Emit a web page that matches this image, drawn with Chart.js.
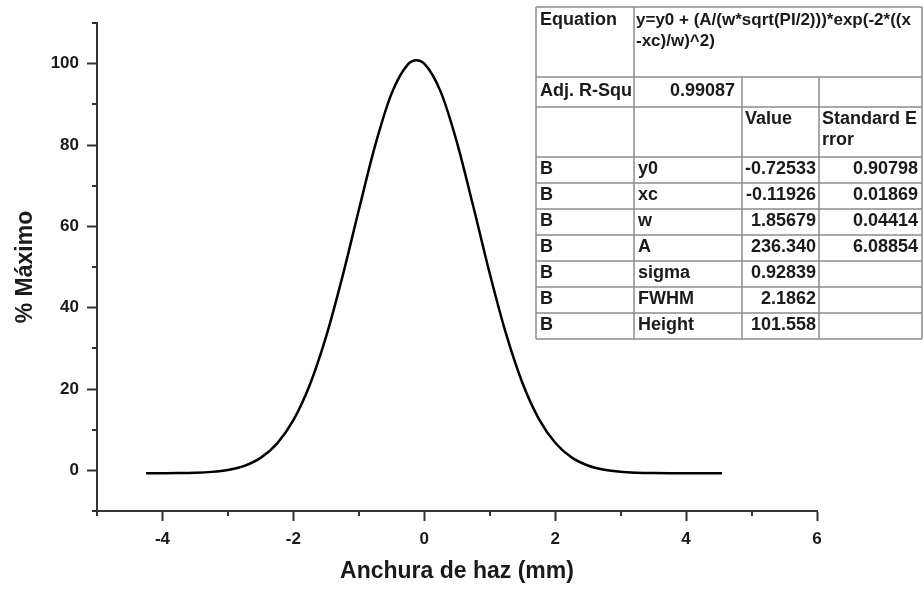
<!DOCTYPE html>
<html>
<head>
<meta charset="utf-8">
<title>Perfil del haz</title>
<script src="https://cdn.jsdelivr.net/npm/chart.js"></script>
<style>
  html, body { margin: 0; padding: 0; background: #fff; }
  #wrap { width: 924px; height: 590px; }
</style>
</head>
<body>
<div id="wrap"><canvas id="profileChart" width="924" height="590"></canvas></div>
<script>
// beam profile (mm) and percent of maximum
const beamX = [-4.25, -4.0, -3.75, -3.5, -3.25, -3.0, -2.75, -2.5, -2.25, -2.0, -1.75, -1.5, -1.25, -1.0, -0.75, -0.5, -0.25,
  -0.12, 0.0, 0.25, 0.5, 0.75, 1.0, 1.25, 1.5, 1.75, 2.0, 2.25, 2.5, 2.75, 3.0, 3.25, 3.5, 3.75, 4.0, 4.25, 4.55];
const pctMax = [-0.72, -0.71, -0.68, -0.59, -0.38, 0.10, 1.11, 3.07, 6.56, 12.32, 20.99, 32.87, 47.63, 64.01, 79.89, 92.63, 99.82,
  100.83, 99.99, 93.12, 80.59, 64.80, 48.41, 33.53, 21.48, 12.67, 6.79, 3.19, 1.18, 0.13, -0.37, -0.58, -0.67, -0.71, -0.72, -0.72, -0.73];

const xTicks = [-4, -2, 0, 2, 4, 6];
const yTicks = [0, 20, 40, 60, 80, 100];
const xMinor = [-5, -3, -1, 1, 3, 5];
const yMinor = [-10, 10, 30, 50, 70, 90, 110];

// fit results table
const fitEquation = ['y=y0 + (A/(w*sqrt(PI/2)))*exp(-2*((x', '-xc)/w)^2)'];
const adjR2 = '0.99087';
const paramNames = ['y0', 'xc', 'w', 'A', 'sigma', 'FWHM', 'Height'];
const paramValues = ['-0.72533', '-0.11926', '1.85679', '236.340', '0.92839', '2.1862', '101.558'];
const paramErrors = ['0.90798', '0.01869', '0.04414', '6.08854', '', '', ''];

const FONT = '"Liberation Sans", Arial, sans-serif';
const AXIS = '#333';

const minorTicks = {
  id: 'minorTicks',
  afterDraw(chart) {
    const {ctx, chartArea, scales} = chart;
    ctx.save();
    ctx.strokeStyle = AXIS;
    ctx.lineWidth = 2;
    ctx.beginPath();
    yMinor.forEach(v => {
      const y = Math.round(scales.y.getPixelForValue(v));
      ctx.moveTo(chartArea.left - 5, y);
      ctx.lineTo(chartArea.left, y);
    });
    xMinor.forEach(v => {
      const x = Math.round(scales.x.getPixelForValue(v));
      ctx.moveTo(x, chartArea.bottom);
      ctx.lineTo(x, chartArea.bottom + 5);
    });
    ctx.stroke();
    ctx.restore();
  }
};

const fitTable = {
  id: 'fitTable',
  afterDraw(chart) {
    const ctx = chart.ctx;
    const cols = [536, 634, 742, 819, 922];
    const rows = [7, 77, 107, 157, 183, 209, 235, 261, 287, 313, 339];
    const top = rows[0], bottom = rows[rows.length - 1];
    ctx.save();
    ctx.fillStyle = '#fff';
    ctx.fillRect(cols[0], top, cols[4] - cols[0], bottom - top);

    ctx.strokeStyle = '#8c8c8c';
    ctx.lineWidth = 1.5;
    ctx.beginPath();
    rows.forEach(y => { ctx.moveTo(cols[0], y); ctx.lineTo(cols[4], y); });
    ctx.moveTo(cols[0], top); ctx.lineTo(cols[0], bottom);
    ctx.moveTo(cols[1], top); ctx.lineTo(cols[1], bottom);
    ctx.moveTo(cols[2], rows[1]); ctx.lineTo(cols[2], bottom);
    ctx.moveTo(cols[3], rows[1]); ctx.lineTo(cols[3], bottom);
    ctx.moveTo(cols[4], top); ctx.lineTo(cols[4], bottom);
    ctx.stroke();

    ctx.fillStyle = '#1a1a1a';
    ctx.font = 'bold 18px ' + FONT;
    ctx.textBaseline = 'middle';
    ctx.textAlign = 'left';
    ctx.fillText('Equation', cols[0] + 4, 20);
    ctx.font = 'bold 17px ' + FONT;
    ctx.fillText(fitEquation[0], cols[1] + 2, 20);
    ctx.fillText(fitEquation[1], cols[1] + 2, 41);
    ctx.font = 'bold 18px ' + FONT;
    ctx.fillText('Adj. R-Squ', cols[0] + 4, 91);
    ctx.fillText('Value', cols[2] + 3, 119);
    ctx.fillText('Standard E', cols[3] + 3, 119);
    ctx.fillText('rror', cols[3] + 3, 140);
    ctx.textAlign = 'right';
    ctx.fillText(adjR2, cols[2] - 7, 91);

    paramNames.forEach((name, i) => {
      const y = (rows[i + 3] + rows[i + 4]) / 2 - 1;
      ctx.textAlign = 'left';
      ctx.fillText('B', cols[0] + 4, y);
      ctx.fillText(name, cols[1] + 4, y);
      ctx.textAlign = 'right';
      ctx.fillText(paramValues[i], cols[3] - 3, y);
      if (paramErrors[i]) ctx.fillText(paramErrors[i], cols[4] - 4, y);
    });
    ctx.restore();
  }
};

const ctx = document.getElementById('profileChart').getContext('2d');
new Chart(ctx, {
  type: 'line',
  data: {
    datasets: [{
      data: beamX.map((x, i) => ({x: x, y: pctMax[i]})),
      borderColor: '#000',
      borderWidth: 2.5,
      pointRadius: 0,
      fill: false,
      cubicInterpolationMode: 'monotone'
    }]
  },
  options: {
    responsive: false,
    animation: false,
    layout: { padding: { top: 23, right: 107, left: 0, bottom: 0 } },
    plugins: { legend: { display: false }, tooltip: { enabled: false } },
    scales: {
      x: {
        type: 'linear',
        min: -5,
        max: 6,
        afterBuildTicks: s => { s.ticks = xTicks.map(v => ({value: v})); },
        afterFit: s => { s.height = 79; },
        border: { display: true, color: AXIS, width: 2 },
        grid: { drawOnChartArea: false, drawTicks: true, tickLength: 10, color: AXIS, tickWidth: 2 },
        ticks: { color: '#1a1a1a', padding: 8, maxRotation: 0, font: { family: FONT, size: 17, weight: 'bold' },
          callback: v => String(v) },
        title: { display: true, text: 'Anchura de haz (mm)', color: '#1a1a1a', padding: { top: 0, bottom: 5 },
          font: { family: FONT, size: 23, weight: 'bold' } }
      },
      y: {
        min: -10,
        max: 110,
        afterBuildTicks: s => { s.ticks = yTicks.map(v => ({value: v})); },
        afterFit: s => { s.width = 97; },
        border: { display: true, color: AXIS, width: 2 },
        grid: { drawOnChartArea: false, drawTicks: true, tickLength: 10, color: AXIS, tickWidth: 2 },
        ticks: { color: '#1a1a1a', padding: 8, font: { family: FONT, size: 17, weight: 'bold' },
          callback: v => String(v) },
        title: { display: true, text: '% Máximo', color: '#1a1a1a', padding: { top: 12, bottom: 0 },
          font: { family: FONT, size: 23, weight: 'bold' } }
      }
    }
  },
  plugins: [minorTicks, fitTable]
});
</script>
</body>
</html>
